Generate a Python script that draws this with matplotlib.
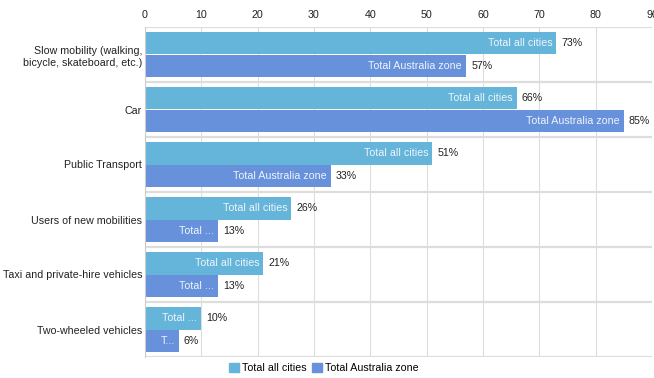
import matplotlib
matplotlib.use("Agg")
import matplotlib.pyplot as plt
from matplotlib.patches import Patch

plt.rcParams['font.family'] = ['Liberation Sans', 'DejaVu Sans']

# Data
categories = ["Slow mobility (walking,\nbicycle, skateboard, etc.)", "Car", "Public Transport",
              "Users of new mobilities", "Taxi and private-hire vehicles", "Two-wheeled vehicles"]
cities = [73, 66, 51, 26, 21, 10]
australia = [57, 85, 33, 13, 13, 6]
series_names = ["Total all cities", "Total Australia zone"]
xticks = [0, 10, 20, 30, 40, 50, 60, 70, 80, 90]

c_light = "#65B5DB"
c_dark = "#6891DB"
fs = 7.7

fig = plt.figure(figsize=(6.54, 3.78), dpi=100)
ax = fig.add_axes([145/654, 21/378, 507/654, 330/378])

n = len(categories)
ypos = list(range(n))
h = 0.41
b1 = ax.barh([y - h/2 for y in ypos], cities, height=h, color=c_light, zorder=3)
b2 = ax.barh([y + h/2 for y in ypos], australia, height=h, color=c_dark, zorder=3)

ax.set_xlim(0, 90)
ax.set_ylim(n - 0.5, -0.5)
ax.set_xticks(xticks)
ax.xaxis.tick_top()
ax.tick_params(axis='x', length=0, pad=5, labelsize=fs, labelcolor="#222222")
ax.set_yticks(ypos)
ax.set_yticklabels(categories, fontsize=fs, color="#222222", ha='right', linespacing=1.35)
ax.tick_params(axis='y', length=0, pad=2)
ax.grid(axis='x', color="#dddddd", linewidth=0.8, zorder=0)
for y in range(n + 1):
    ax.axhline(y - 0.5, color="#dddddd", linewidth=1.6, zorder=1)
for s in ['top', 'right', 'bottom']:
    ax.spines[s].set_visible(False)
ax.spines['left'].set_color("#cccccc")
ax.spines['left'].set_zorder(4)

fig.canvas.draw()
renderer = fig.canvas.get_renderer()
px_per_unit = ax.transData.transform((1, 0))[0] - ax.transData.transform((0, 0))[0]


def text_width(s):
    t = ax.text(0, 0, s, fontsize=fs)
    w = t.get_window_extent(renderer).width
    t.remove()
    return w


def fit_label(text, avail):
    # drop whole words first, then fall back to the first letter
    if text_width(text) <= avail:
        return text
    words = text.split(" ")
    for k in range(len(words) - 1, 0, -1):
        cand = " ".join(words[:k]) + " ..."
        if text_width(cand) <= avail:
            return cand
    cand = text[0] + "..."
    return cand if text_width(cand) <= avail else ""


for bars, vals, name in [(b1, cities, series_names[0]), (b2, australia, series_names[1])]:
    for bar, v in zip(bars, vals):
        yc = bar.get_y() + bar.get_height() / 2
        avail = v * px_per_unit - 8
        lab = fit_label(name, avail)
        if lab:
            ax.text(v - 4 / px_per_unit, yc, lab, ha='right', va='center', fontsize=fs,
                    color="#eef4fb", zorder=5)
        ax.text(v + 5 / px_per_unit, yc, f"{v}%", ha='left', va='center', fontsize=fs,
                color="#222222", zorder=5)

handles = [Patch(color=c_light, label=series_names[0]), Patch(color=c_dark, label=series_names[1])]
fig.legend(handles=handles, loc='lower center', bbox_to_anchor=(0.495, -0.012), ncol=2, frameon=False,
           fontsize=fs, handlelength=0.9, handleheight=0.9, handletextpad=0.3, columnspacing=0.5)

fig.savefig("out.png", dpi=100)
